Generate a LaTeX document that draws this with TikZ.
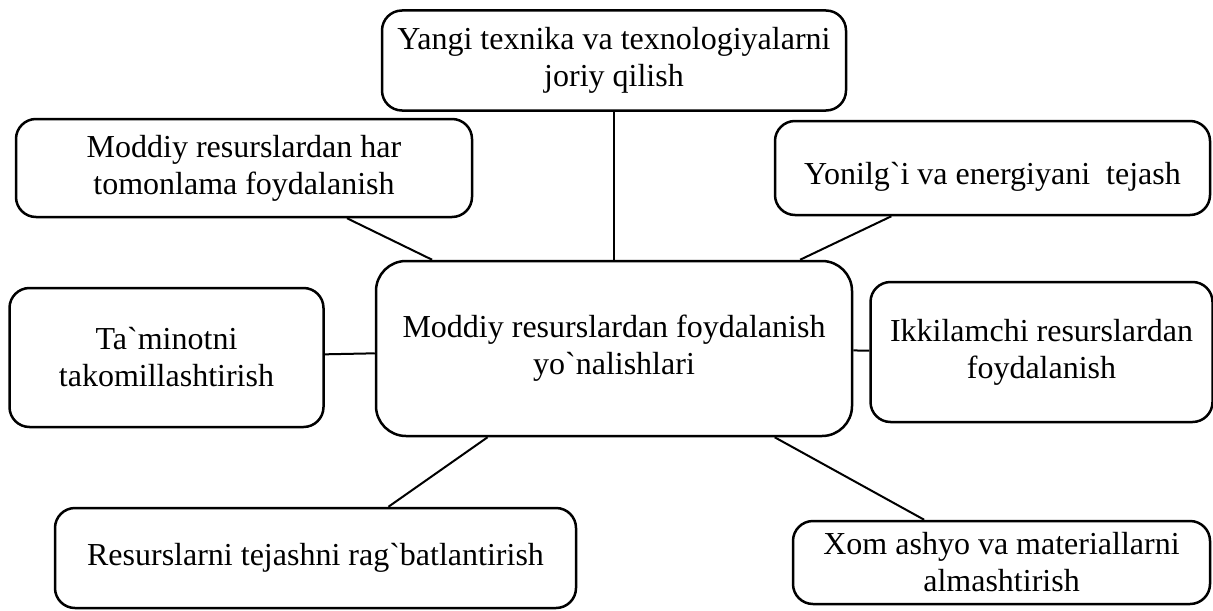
\documentclass[tikz,border=0pt]{standalone}
\usepackage{fontspec}
\setmainfont{Liberation Serif}
\usetikzlibrary{positioning}
\tikzstyle{direction} = [draw, rectangle, line width=1.25pt, fill=white, align=center, rounded corners=10pt, inner sep=2pt, font=\fontsize{16}{18.5}\selectfont]
\tikzstyle{line} = [draw, line width=1pt]

\begin{document}
\begin{tikzpicture}[x=0.5pt, y=-0.5pt]
    \useasboundingbox (0,0) rectangle (1213,610);

    % Place nodes
    \node [direction, minimum width=238pt, minimum height=87.5pt, rounded corners=15pt] (directions) at (614,348.5) {Moddiy resurslardan foydalanish\\yo\textasciigrave nalishlari};
    \node [direction, above=74pt of directions, minimum width=232pt, minimum height=50pt] (new-tech) {Yangi texnika va texnologiyalarni\\joriy qilish};
    \node [direction, left=25pt of directions, yshift=-4.5pt, minimum width=157pt, minimum height=69.5pt] (supply) {Ta\textasciigrave minotni\\takomillashtirish};
    \node [direction, right=8pt of directions, yshift=-1.75pt, minimum width=171pt, minimum height=70pt] (secondary-use) {Ikkilamchi resurslardan\\foydalanish};
    \node [direction, minimum width=228pt, minimum height=49pt] (full-use) at (244,168) {Moddiy resurslardan har\\tomonlama foydalanish};
    \node [direction, minimum width=217.5pt, minimum height=47pt, text height=20pt, text depth=3.5pt] (fuel-saving) at (992.5,168) {Yonilg\textasciigrave i va energiyani~ tejash};
    \node [direction, minimum width=260.5pt, minimum height=50pt] (saving-incentive) at (315.5,558) {Resurslarni tejashni rag\textasciigrave batlantirish};
    \node [direction, minimum width=208.5pt, minimum height=41.5pt] (raw-materials) at (1001.5,562.5) {Xom ashyo va materiallarni\\almashtirish};

    % Draw edges
    \path [line] (directions) -- (new-tech);
    \path [line] (directions) -- (full-use);
    \path [line] (directions) -- (fuel-saving);
    \path [line] (directions) -- (supply);
    \path [line] (directions) -- (secondary-use);
    \path [line] (directions) -- (saving-incentive);
    \path [line] (directions) -- (raw-materials);
\end{tikzpicture}
\end{document}
